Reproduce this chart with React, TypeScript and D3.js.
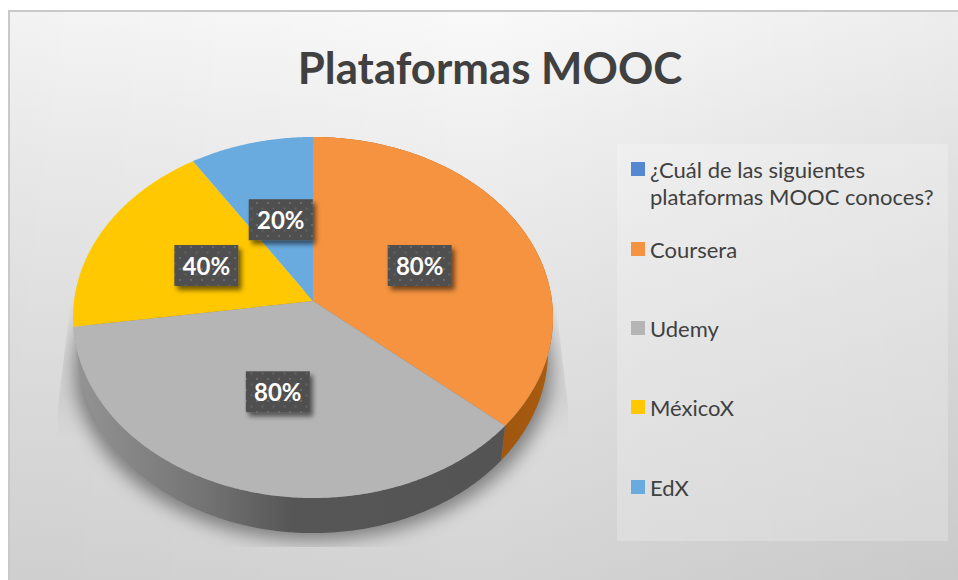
import * as d3 from "d3";
import React from "react";

const title = "Plataformas MOOC";
const categories = ["Coursera", "Udemy", "MéxicoX", "EdX"];
const values = [80, 80, 40, 20];
const labels = ["80%", "80%", "40%", "20%"];
const colors = ["#f59340", "#b5b5b5", "#ffc800", "#6aabdf"];

const legendNames = [
  ["¿Cuál de las siguientes", "plataformas MOOC conoces?"],
  ["Coursera"],
  ["Udemy"],
  ["MéxicoX"],
  ["EdX"],
];
const legendColors = ["#5588d0", "#f59340", "#b5b5b5", "#ffc800", "#6aabdf"];
const legendY = [170, 250, 329, 408, 488];

const width = 958;
const height = 580;
const font = "Lato, 'Open Sans', sans-serif";

// tilted disc: unit circle -> screen with a bit of perspective
const persp = 0.0914;
const topDisc = { cx: 313, cy: 301, rx: 239, ry: 179 };
const lowDisc = { cx: 313, cy: 335, rx: 234, ry: 180 };

type Disc = typeof topDisc;

const project = (d: Disc, u: number, v: number): [number, number] => {
  const w = 1 - persp * v;
  return [d.cx + (d.rx * u) / w, d.cy + (d.ry * v) / w];
};

const rim = (d: Disc, a0: number, a1: number) =>
  d3
    .range(a0, a1, 0.01)
    .concat(a1)
    .map((a) => project(d, Math.sin(a), -Math.cos(a)));

const line = d3.line();

const pie = d3
  .pie<number>()
  .sort(null)
  .value((d) => d);
const slices = pie(values);

const unitArc = d3.arc<d3.PieArcDatum<number>>().innerRadius(0).outerRadius(1);

const sideFill = ["url(#sideOrange)", "url(#sideGray)", "#888", "#888"];

const labelW = 64;
const labelH = 41;

export default function App() {
  return (
    <svg
      width={width}
      height={height}
      style={{ position: "absolute", left: 0, top: 0, display: "block" }}
    >
      <defs>
        <linearGradient id="bg" gradientUnits="userSpaceOnUse" x1={0} x2={0} y1={12} y2={580}>
          <stop offset="0" stopColor="#f9f9f9" />
          <stop offset="0.25" stopColor="#eeeeee" />
          <stop offset="0.6" stopColor="#e1e1e1" />
          <stop offset="1" stopColor="#d4d4d4" />
        </linearGradient>
        <linearGradient id="bgSides" gradientUnits="userSpaceOnUse" x1={10} x2={958} y1={0} y2={0}>
          <stop offset="0" stopColor="#000" stopOpacity="0.025" />
          <stop offset="0.5" stopColor="#000" stopOpacity="0" />
          <stop offset="1" stopColor="#000" stopOpacity="0.05" />
        </linearGradient>
        <linearGradient id="sideGray" gradientUnits="userSpaceOnUse" x1={75} x2={510} y1={0} y2={0}>
          <stop offset="0" stopColor="#949494" />
          <stop offset="0.3" stopColor="#737373" />
          <stop offset="0.5" stopColor="#565656" />
          <stop offset="1" stopColor="#545454" />
        </linearGradient>
        <linearGradient id="sideOrange" gradientUnits="userSpaceOnUse" x1={500} x2={553} y1={0} y2={0}>
          <stop offset="0" stopColor="#a0560f" />
          <stop offset="1" stopColor="#a95c10" />
        </linearGradient>
        <linearGradient id="shadowFade" gradientUnits="userSpaceOnUse" x1={0} x2={0} y1={290} y2={440}>
          <stop offset="0" stopColor="#000" stopOpacity="0" />
          <stop offset="0.7" stopColor="#000" stopOpacity="0.05" />
          <stop offset="1" stopColor="#000" stopOpacity="0" />
        </linearGradient>
        <filter id="soft" x="-20%" y="-20%" width="140%" height="140%">
          <feGaussianBlur stdDeviation="9" />
        </filter>
        <filter id="labelShadow" x="-30%" y="-30%" width="170%" height="170%">
          <feDropShadow dx="3" dy="4" stdDeviation="2.5" floodColor="#000" floodOpacity="0.55" />
        </filter>
        <clipPath id="shadowClip">
          <path d="M72,290 L554,290 L568,405 L568,547 L58,547 L58,405 Z" />
        </clipPath>
        <pattern id="dots" width="11" height="11" patternUnits="userSpaceOnUse" x="2" y="3">
          <rect width="11" height="11" fill="#4f4f4f" />
          <rect x="1" y="1" width="2" height="2" fill="#6a6a6a" />
          <rect x="6.5" y="6.5" width="2" height="2" fill="#636363" />
        </pattern>
      </defs>

      <rect x={8} y={10} width={width - 8} height={height - 10} fill="#c9c9c9" />
      <rect x={10} y={12} width={width - 10} height={height - 12} fill="url(#bg)" />
      <rect x={10} y={12} width={width - 10} height={height - 12} fill="url(#bgSides)" />

      <text
        x={490}
        y={84}
        textAnchor="middle"
        fontFamily={font}
        fontWeight={700}
        fontSize={43.8}
        fill="#404040"
      >
        {title}
      </text>

      <rect x={617} y={144} width={331} height={397} fill="#fff" fillOpacity={0.22} />
      {legendNames.map((lines, i) => (
        <g key={i}>
          <rect x={631} y={legendY[i] - 8} width={14} height={14} fill={legendColors[i]} />
          <text fontFamily={font} fontSize={22} fill="#404040">
            {lines.map((t, j) => (
              <tspan key={j} x={650} y={legendY[i] + 8 + j * 27}>
                {t}
              </tspan>
            ))}
          </text>
        </g>
      ))}

      <g clipPath="url(#shadowClip)">
        <path d="M72,290 L554,290 L568,405 L568,547 L58,547 L58,405 Z" fill="url(#shadowFade)" />
        <ellipse cx={313} cy={368} rx={238} ry={172} fill="#000" fillOpacity={0.42} filter="url(#soft)" />
      </g>

      {slices.slice(0, 2).map((s, i) => (
        <path
          key={categories[i]}
          d={
            line(
              rim(topDisc, s.startAngle, s.endAngle).concat(
                rim(lowDisc, s.startAngle, s.endAngle).reverse()
              )
            ) + "Z"
          }
          fill={sideFill[i]}
        />
      ))}

      {slices.map((s, i) => (
        <path
          key={categories[i]}
          d={
            line(
              [[topDisc.cx, topDisc.cy] as [number, number]].concat(
                rim(topDisc, s.startAngle, s.endAngle)
              )
            ) + "Z"
          }
          fill={colors[i]}
        />
      ))}

      {slices.map((s, i) => {
        const [u, v] = unitArc.centroid(s);
        const [x, y] = project(topDisc, u, v);
        return (
          <g key={categories[i]}>
            <rect
              x={x - labelW / 2}
              y={y - labelH / 2 + 1}
              width={labelW}
              height={labelH}
              fill="url(#dots)"
              filter="url(#labelShadow)"
            />
            <text
              x={x}
              y={y + 10}
              textAnchor="middle"
              fontFamily={font}
              fontWeight={700}
              fontSize={24}
              fill="#fff"
            >
              {labels[i]}
            </text>
          </g>
        );
      })}
    </svg>
  );
}
